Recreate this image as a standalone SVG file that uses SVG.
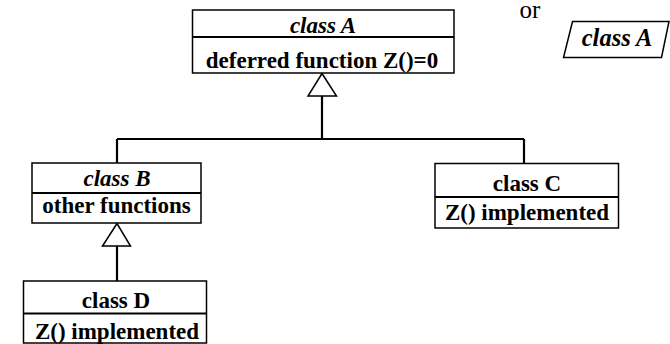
<svg xmlns="http://www.w3.org/2000/svg" width="670" height="344" viewBox="0 0 670 344">
<style>
.box{fill:#fff;stroke:#000;stroke-width:1.5}
.div{stroke:#000;stroke-width:2}
.t{font-family:"Times New Roman","Liberation Serif",Times,"DejaVu Serif",serif;font-weight:700;font-size:23px;text-anchor:middle;fill:#000}
.i{font-style:italic}
.r{font-family:"Times New Roman","Liberation Serif",Times,"DejaVu Serif",serif;font-size:25px;text-anchor:middle;fill:#000}
.con{fill:none;stroke:#000;stroke-width:2.2}
.tri{fill:#fff;stroke:#000;stroke-width:1.5}
</style>
<rect width="670" height="344" fill="#fff"/>
<g id="connectors">
<path class="con" d="M322,96 V139 M117,139 H524 M117,139 V163 M524,139 V163 M117,246 V281"/>
<polygon class="tri" points="322,73.5 308,96 336.5,96"/>
<polygon class="tri" points="117,223.5 102.5,246 130.5,246"/>
</g>
<g id="classA">
<rect class="box" x="192.5" y="10" width="261.5" height="63"/>
<line class="div" x1="192.5" y1="37" x2="454" y2="37"/>
<text class="t i" x="323" y="33">class A</text>
<text class="t" x="322" y="68">deferred function Z()=0</text>
</g>
<g id="classB">
<rect class="box" x="32" y="163" width="169" height="60"/>
<line class="div" x1="32" y1="193" x2="201" y2="193"/>
<text class="t i" x="117" y="185.5">class B</text>
<text class="t" x="116.5" y="213">other functions</text>
</g>
<g id="classC">
<rect class="box" x="435" y="163.5" width="183.5" height="64.5"/>
<line class="div" x1="435" y1="197" x2="618.5" y2="197"/>
<text class="t" x="527" y="191">class C</text>
<text class="t" x="527" y="220">Z() implemented</text>
</g>
<g id="classD">
<rect class="box" x="23.5" y="281" width="183" height="62"/>
<line class="div" x1="23.5" y1="313.5" x2="206.5" y2="313.5"/>
<text class="t" x="116" y="307.5">class D</text>
<text class="t" x="117" y="339">Z() implemented</text>
</g>
<g id="alt">
<text class="r" x="530" y="18">or</text>
<polygon class="box" points="572.5,21.5 669,21.5 661.5,57.5 563.5,57.5"/>
<text class="t i" x="617" y="46" style="font-size:24.5px">class A</text>
</g>
</svg>
